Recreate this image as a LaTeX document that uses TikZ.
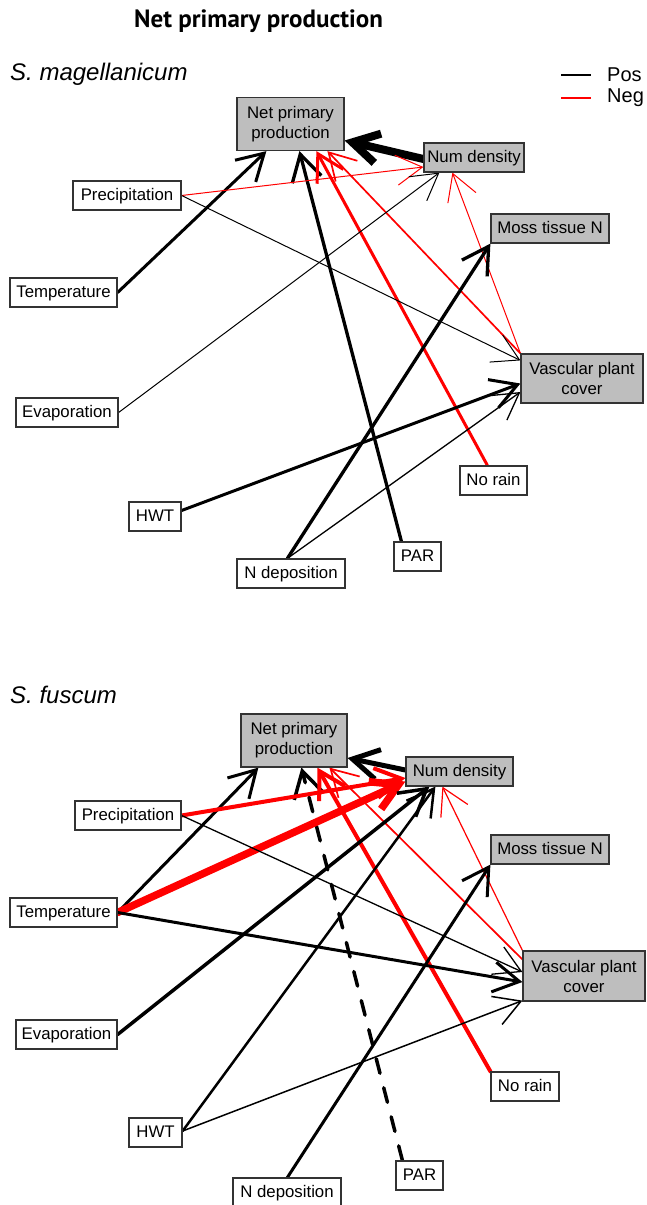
\documentclass[tikz,border=0pt]{standalone}
\usepackage{fontspec}
\usetikzlibrary{arrows.meta,calc,backgrounds}
\newfontfamily\lsans{Liberation Sans}
\newfontfamily\titlefont{PT Sans}
\definecolor{boxgray}{HTML}{BEBEBE}
\definecolor{bordc}{HTML}{333333}
\begin{document}
\begin{tikzpicture}[x=1pt,y=-1pt,
  box/.style={draw=bordc, line width=1.2pt, fill=white, inner sep=0pt, align=center,
    font=\lsans\fontsize{16.8}{20}\selectfont, minimum height=29pt, text height=12.2pt, text depth=3.2pt},
  gbox/.style={box, fill=boxgray},
  twoline/.style={text height={}, text depth={}},
  posarr/.style={draw=black, color=black, line cap=round, -{Straight Barb[length=26pt,width=30pt]}},
  negarr/.style={posarr, draw=red, color=red},
  lab/.style={inner sep=0pt, anchor=base west, font=\lsans\itshape\fontsize{24}{28}\selectfont},
  legtext/.style={inner sep=0pt, anchor=west, font=\lsans\fontsize{20}{24}\selectfont}]
\useasboundingbox (0,0) rectangle (646,1205);

% title and labels
\node[inner sep=0pt, anchor=base west, font=\titlefont\bfseries\fontsize{25}{30}\selectfont] (title) at (134,27) {Net primary production};
\node[lab] (lab1) at (10,80) {S. magellanicum};
\node[lab] (lab2) at (10,703) {S. fuscum};

% legend
\draw[black, line width=1.3pt] (561,75) -- (591,75);
\draw[red, line width=1.3pt] (561,98) -- (591,98);
\node[legtext] (lpos) at (607,75) {Pos};
\node[legtext] (lneg) at (607,98) {Neg};

% ---------- top panel nodes
\node[gbox, twoline, minimum width=107pt, minimum height=53pt] (npp1) at (290.5,124) {Net primary\\production};
\node[gbox, minimum width=100pt] (num1) at (474,157.5) {Num density};
\node[gbox, minimum width=118pt] (moss1) at (550,228.5) {Moss tissue N};
\node[gbox, twoline, minimum width=122pt, minimum height=49pt] (vasc1) at (582,378.5) {Vascular plant\\cover};
\node[box, minimum width=108pt] (prec1) at (127,195.5) {Precipitation};
\node[box, minimum width=107pt] (temp1) at (63.5,292.5) {Temperature};
\node[box, minimum width=102pt] (evap1) at (67,412.5) {Evaporation};
\node[box, minimum width=52pt] (hwt1) at (155,516.5) {HWT};
\node[box, minimum width=108pt] (ndep1) at (291,573.5) {N deposition};
\node[box, minimum width=47pt] (par1) at (417.5,556.5) {PAR};
\node[box, minimum width=67pt] (norain1) at (493.5,480.5) {No rain};

% ---------- bottom panel nodes
\node[gbox, twoline, minimum width=106pt, minimum height=53pt] (npp2) at (294,740.5) {Net primary\\production};
\node[gbox, minimum width=107pt] (num2) at (459.5,771.5) {Num density};
\node[gbox, minimum width=118pt] (moss2) at (550,849.5) {Moss tissue N};
\node[gbox, twoline, minimum width=122pt, minimum height=50pt] (vasc2) at (584,976) {Vascular plant\\cover};
\node[box, minimum width=106pt] (prec2) at (128,815.5) {Precipitation};
\node[box, minimum width=107pt] (temp2) at (63.5,912.5) {Temperature};
\node[box, minimum width=101pt] (evap2) at (66.5,1034.5) {Evaporation};
\node[box, minimum width=53pt] (hwt2) at (155.5,1132.5) {HWT};
\node[box, minimum width=108pt] (ndep2) at (287,1192.5) {N deposition};
\node[box, minimum width=47pt] (par2) at (419.5,1175.5) {PAR};
\node[box, minimum width=68pt] (norain2) at (525,1086.5) {No rain};

\begin{scope}[on background layer]
% ---------- top panel edges
\draw[posarr, line width=3pt] (temp1.east) -- ($(npp1.south west)+(30,0)$);
\draw[posarr, line width=3.3pt] ($(par1.north west)+(8,0)$) -- ($(npp1.south west)+(63,0)$);
\draw[posarr, line width=8pt] ($(num1.west)+(0,1.5)$) -- ($(npp1.east)+(0,16.5)$);
\draw[negarr, line width=3pt] ($(norain1.north west)+(28,0)$) -- ($(npp1.south west)+(80,0)$);
\draw[negarr, line width=1.7pt] (vasc1.north west) -- ($(npp1.south west)+(91,0)$);
\draw[negarr, line width=1pt] (vasc1.north west) -- ($(num1.south west)+(29,0)$);
\draw[negarr, line width=1pt] (prec1.east) -- ($(num1.west)+(0,9.5)$);
\draw[posarr, line width=1pt] (prec1.east) -- ($(vasc1.north west)+(0,7)$);
\draw[posarr, line width=1pt] (evap1.east) -- ($(num1.south west)+(16,0)$);
\draw[posarr, line width=3.3pt] ($(ndep1.north west)+(51,0)$) -- (moss1.south west);
\draw[posarr, line width=1.3pt] ($(ndep1.north west)+(51,0)$) -- ($(vasc1.west)+(0,13.5)$);
\draw[posarr, line width=3pt] ($(hwt1.east)+(0,-6)$) -- ($(vasc1.west)+(0,5)$);

% ---------- bottom panel edges
\draw[posarr, line width=3pt] (temp2.east) -- ($(npp2.south west)+(18,0)$);
\draw[posarr, line width=3.5pt, dash pattern=on 15pt off 15pt] ($(par2.north west)+(7,0)$) -- ($(npp2.south west)+(61,0)$);
\draw[posarr, line width=5pt] ($(num2.west)+(0,-1.5)$) -- ($(npp2.east)+(0,17.5)$);
\draw[negarr, line width=4pt] (norain2.north west) -- ($(npp2.south west)+(77,0)$);
\draw[negarr, line width=1.7pt] ($(vasc2.north west)+(0,9)$) -- ($(npp2.south west)+(89,0)$);
\draw[negarr, line width=1.2pt] (vasc2.north west) -- ($(num2.south west)+(37,0)$);
\draw[negarr, line width=4pt] (prec2.east) -- ($(num2.west)+(0,6.5)$);
\draw[negarr, line width=7.5pt] (temp2.east) -- ($(num2.west)+(0,10)$);
\draw[posarr, line width=1.3pt] (prec2.east) -- ($(vasc2.west)+(0,-4)$);
\draw[posarr, line width=3pt] (temp2.east) -- ($(vasc2.west)+(0,6)$);
\draw[posarr, line width=1.5pt] ($(hwt2.east)+(0,-1.5)$) -- ($(vasc2.south west)+(0,-1)$);
\draw[posarr, line width=2.5pt] ($(hwt2.east)+(0,-1.5)$) -- ($(num2.south west)+(30,0)$);
\draw[posarr, line width=3.5pt] (evap2.east) -- ($(num2.south west)+(24,0)$);
\draw[posarr, line width=3pt] ($(ndep2.north west)+(55,0)$) -- (moss2.south west);
\end{scope}
\end{tikzpicture}
\end{document}
